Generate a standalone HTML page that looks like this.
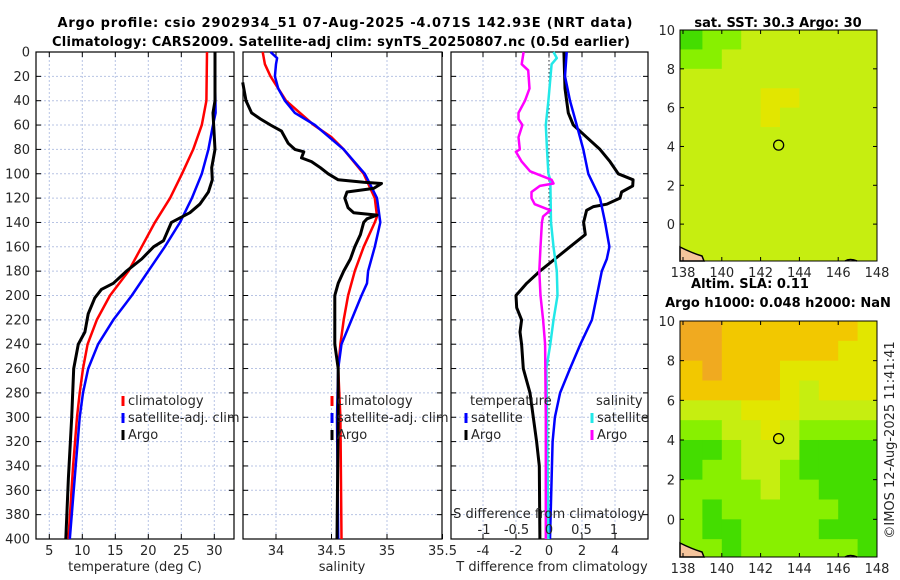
<!DOCTYPE html>
<html><head><meta charset="utf-8"><style>
html,body{margin:0;padding:0;background:#fff;}
svg{display:block;font-family:"DejaVu Sans","Liberation Sans",sans-serif;}
</style></head><body>
<svg id="fig" width="900" height="580" viewBox="0 0 900 580" xmlns="http://www.w3.org/2000/svg">
<rect width="900" height="580" fill="#fff"/>
<text x="345" y="27" text-anchor="middle" font-weight="bold" font-size="13" textLength="575">Argo profile: csio 2902934_51 07-Aug-2025 -4.071S 142.93E (NRT data)</text>
<text x="341" y="46" text-anchor="middle" font-weight="bold" font-size="13" textLength="578">Climatology: CARS2009. Satellite-adj clim: synTS_20250807.nc (0.5d earlier)</text>
<text x="778" y="27" text-anchor="middle" font-weight="bold" font-size="13">sat. SST: 30.3 Argo: 30</text>
<text x="750" y="288" text-anchor="middle" font-weight="bold" font-size="13">Altim. SLA: 0.11</text>
<text x="778" y="307" text-anchor="middle" font-weight="bold" font-size="13">Argo h1000: 0.048 h2000: NaN</text>
<text transform="translate(894,440) rotate(-90)" text-anchor="middle" font-size="13" fill="#262626">©IMOS 12-Aug-2025 11:41:41</text>
<g id="plots"></g>
</svg>
<script>
// ---------- data ----------
const depthTicks=[0,20,40,60,80,100,120,140,160,180,200,220,240,260,280,300,320,340,360,380,400];
const tempTicks=[5,10,15,20,25,30];
const salTicks=[34,34.5,35,35.5];
const tdiffTicks=[-4,-2,0,2,4];
const sdiffTicks=[-1,-0.5,0,0.5,1];
const sdiffTickLabels=["-1","-0.5","0","0.5","1"];

const tClimDepth=[0,40,60,80,100,120,140,160,180,200,220,240,260,280,300,340,400];
const tClimVal=[28.9,28.8,28.1,26.8,25.1,23.3,21.0,19.0,17.0,14.2,12.2,10.8,10.1,9.6,9.2,8.6,7.9];
const tSatDepth=[0,20,50,60,80,100,120,140,160,180,200,220,240,260,280,300,340,400];
const tSatVal=[30.1,30.1,30.2,29.8,29.1,28.1,26.6,24.8,22.5,20.0,17.5,14.7,12.4,10.9,10.1,9.6,9.0,8.1];
const tArgoDepth=[0,40,50,80,95,105,115,125,132,140,155,160,170,180,190,195,202,215,230,240,260,300,350,400];
const tArgoVal=[30.1,30.1,29.8,30.1,29.6,29.7,29.1,27.8,26.3,23.5,22.3,20.8,19.0,16.7,14.7,12.9,11.9,10.9,10.4,9.4,8.7,8.4,7.9,7.5];

const sClimDepth=[0,10,20,40,60,70,80,100,120,135,140,160,180,200,220,240,260,300,400];
const sClimVal=[33.88,33.90,33.95,34.09,34.34,34.50,34.61,34.79,34.89,34.91,34.89,34.79,34.71,34.65,34.61,34.58,34.56,34.58,34.59];
const sSatDepth=[0,5,10,20,30,40,50,60,80,100,120,140,160,180,190,200,220,240,260,300,400];
const sSatVal=[33.95,34.01,34.0,33.99,34.02,34.08,34.17,34.35,34.61,34.80,34.91,34.94,34.89,34.83,34.82,34.77,34.68,34.59,34.56,34.55,34.56];
const sArgoDepth=[25,40,50,55,60,65,75,80,82,87,90,95,100,105,107,108,112,115,120,128,132,134,137,140,150,160,170,180,190,200,220,240,260,300,400];
const sArgoVal=[33.70,33.73,33.78,33.86,33.95,34.05,34.11,34.17,34.25,34.23,34.32,34.40,34.47,34.56,34.79,34.95,34.88,34.64,34.62,34.65,34.70,34.91,34.82,34.79,34.76,34.71,34.67,34.61,34.56,34.53,34.53,34.53,34.56,34.56,34.55];

const dTArgoDepth=[0,30,50,60,70,80,90,100,105,110,115,120,125,127,130,140,150,160,170,180,190,200,210,220,230,240,260,280,300,320,340,400];
const dTArgoVal=[0.9,0.97,1.17,1.47,2.28,3.09,3.7,4.2,5.1,5.07,4.4,4.3,3.5,2.7,2.28,2.1,2.2,1.27,0.36,-0.55,-1.35,-2.0,-1.96,-1.66,-1.76,-1.66,-1.56,-1.15,-0.95,-0.75,-0.59,-0.55];
const dTSatDepth=[0,20,40,60,70,80,100,120,140,160,170,180,200,220,240,260,280,300,320,400];
const dTSatVal=[1.07,0.97,1.27,1.68,1.88,2.08,2.38,3.09,3.4,3.66,3.5,3.2,2.9,2.6,1.9,1.27,0.67,0.36,0.22,0.06];
const dSSatDepth=[0,5,10,40,60,80,100,105,140,160,180,200,220,240,260,300,400];
const dSSatVal=[0.07,0.12,0.04,-0.01,-0.05,-0.03,-0.01,0.02,0.03,0.07,0.12,0.13,0.07,0.02,-0.04,-0.03,-0.01];
const dSArgoDepth=[0,10,15,30,40,50,55,60,70,80,82,90,98,105,108,110,115,120,125,130,135,140,160,180,200,220,240,300,400];
const dSArgoVal=[-0.39,-0.42,-0.32,-0.30,-0.37,-0.47,-0.47,-0.41,-0.47,-0.45,-0.51,-0.42,-0.29,0.04,0.07,-0.14,-0.27,-0.27,-0.22,0.02,-0.09,-0.11,-0.13,-0.15,-0.13,-0.09,-0.06,-0.05,-0.05];

const lonTicks=[138,140,142,144,146,148];
const latTicks=[0,2,4,6,8,10];
const sstGrid=[
[1,2,2,3,3,3,3,3,3,3],
[2,2,3,3,3,3,3,3,3,3],
[3,3,3,3,3,3,3,3,3,3],
[3,3,3,3,4,4,3,3,3,3],
[3,3,3,3,4,3,3,3,3,3],
[3,3,3,3,3,3,3,3,3,3],
[3,3,3,3,3,3,3,3,3,3],
[3,3,3,3,3,3,3,3,3,3],
[3,3,3,3,3,3,3,3,3,3],
[3,3,3,3,3,3,3,3,3,3],
[3,3,3,3,3,3,3,3,3,3],
[3,3,3,3,3,3,3,3,3,3]];
const slaGrid=[
[6,6,5,5,5,5,5,5,5,4],
[6,6,5,5,5,5,5,5,4,4],
[5,6,5,5,5,4,4,4,4,4],
[5,5,5,5,5,4,3,4,4,4],
[3,3,3,4,4,4,3,3,3,3],
[2,2,3,3,4,3,2,2,2,2],
[1,1,2,3,3,3,1,1,1,1],
[1,2,2,3,3,2,1,1,1,1],
[2,2,2,2,3,2,2,1,1,1],
[2,1,2,2,2,2,2,2,1,1],
[2,1,1,2,2,2,2,1,1,1],
[2,2,1,2,2,2,2,2,2,1]];
const palette=["#22cc00","#44dd00","#88f000","#c6ee10","#e2e600","#f2c800","#f0aa20"];

// ---------- drawing ----------
const NS="http://www.w3.org/2000/svg";
const root=document.getElementById('plots');
function el(tag,attrs,parent){const e=document.createElementNS(NS,tag);for(const k in attrs)e.setAttribute(k,attrs[k]);(parent||root).appendChild(e);return e;}
const Y0=52,Y1=539;
function yScale(d){return Y0+(d/400)*(Y1-Y0);}
function lin(d0,d1,r0,r1){return v=>r0+(v-d0)/(d1-d0)*(r1-r0);}

function panel(name,x0,x1,xs,ticks,labels,showY){
  const g=el('g',{});
  
  
  depthTicks.forEach(d=>{
    const y=yScale(d);
    if(d>0&&d<400){const gl=el('line',{x1:x0,x2:x1,y1:y,y2:y,stroke:'#b8c4e4','stroke-width':1,'stroke-dasharray':'2,2'},g);
      }
    el('line',{x1:x0,x2:x0+5,y1:y,y2:y,stroke:'#000'},g);
    el('line',{x1:x1-5,x2:x1,y1:y,y2:y,stroke:'#000'},g);
    if(showY){const t=el('text',{x:x0-6,y:y+4.5,'text-anchor':'end','font-size':13,fill:'#262626'},g);t.textContent=d;
      }
  });
  ticks.forEach((v,i)=>{
    const x=xs(v);
    if(x>x0+1&&x<x1-1){const gl=el('line',{x1:x,x2:x,y1:Y0,y2:Y1,stroke:'#b8c4e4','stroke-width':1,'stroke-dasharray':'2,2'},g);
      }
    el('line',{x1:x,x2:x,y1:Y1,y2:Y1-5,stroke:'#000'},g);
    el('line',{x1:x,x2:x,y1:Y0,y2:Y0+5,stroke:'#000'},g);
    const t=el('text',{x:x,y:555,'text-anchor':'middle','font-size':13,fill:'#262626'},g);t.textContent=labels[i];
    
  });
  const b=el('rect',{x:x0,y:Y0,width:x1-x0,height:Y1-Y0,fill:'none',stroke:'#000','stroke-width':1.2},g);
  
  return g;
}
function series(g,name,depths,vals,xs,color,w){
  const pts=depths.map((d,i)=>xs(vals[i]).toFixed(1)+','+yScale(d).toFixed(1)).join(' ');
  const p=el('polyline',{points:pts,fill:'none',stroke:color,'stroke-width':w,'stroke-linejoin':'round'},g);
  
  
}
function legendItem(g,name,x,y,color,label){
  const m=el('line',{x1:x,x2:x,y1:y-9,y2:y+1,stroke:color,'stroke-width':3},g);
  
  const t=el('text',{x:x+5,y:y,'font-size':13,fill:'#262626'},g);t.textContent=label;
  
}
function label(g,name,x,y,txt,anchor){const t=el('text',{x:x,y:y,'text-anchor':anchor||'middle','font-size':13,fill:'#262626'},g);t.textContent=txt;
  return t;}

// Panel 1 temperature
const xT=lin(5,30,49.3,214.3);
const g1=panel('temperature-panel',36,234,xT,tempTicks,tempTicks.map(String),true);
series(g1,'temp-climatology-line',tClimDepth,tClimVal,xT,'#ff0000',2.5);
series(g1,'temp-satellite-line',tSatDepth,tSatVal,xT,'#0000ff',2.5);
series(g1,'temp-argo-line',tArgoDepth,tArgoVal,xT,'#000',3);
label(g1,'temperature-axis-title',135,571,'temperature (deg C)');
legendItem(g1,'legend-climatology',123,405,'#ff0000','climatology');
legendItem(g1,'legend-satellite-adj',123,422,'#0000ff','satellite-adj. clim');
legendItem(g1,'legend-argo',123,439,'#000','Argo');

// Panel 2 salinity
const xS=lin(34,35,276,387);
const g2=panel('salinity-panel',243,442,xS,salTicks,["34","34.5","35","35.5"],false);
series(g2,'sal-climatology-line',sClimDepth,sClimVal,xS,'#ff0000',2.5);
series(g2,'sal-satellite-line',sSatDepth,sSatVal,xS,'#0000ff',2.5);
series(g2,'sal-argo-line',sArgoDepth,sArgoVal,xS,'#000',3);
label(g2,'salinity-axis-title',342,571,'salinity');
legendItem(g2,'legend-climatology',332,405,'#ff0000','climatology');
legendItem(g2,'legend-satellite-adj',332,422,'#0000ff','satellite-adj. clim');
legendItem(g2,'legend-argo',332,439,'#000','Argo');

// Panel 3 differences
const xDT=lin(0,4,549,615);
const xDS=lin(0,1,549,614);
const g3=panel('difference-panel',451,648,xDT,tdiffTicks,tdiffTicks.map(String),false);
el('line',{x1:xDT(0),x2:xDT(0),y1:Y0,y2:Y1,stroke:'#333','stroke-width':1,'stroke-dasharray':'1.5,2.5'},g3);
series(g3,'tdiff-argo-line',dTArgoDepth,dTArgoVal,xDT,'#000',3);
series(g3,'tdiff-satellite-line',dTSatDepth,dTSatVal,xDT,'#0000ff',2.5);
series(g3,'sdiff-satellite-line',dSSatDepth,dSSatVal,xDS,'#22e8e8',2.5);
series(g3,'sdiff-argo-line',dSArgoDepth,dSArgoVal,xDS,'#ff00ff',2.5);
label(g3,'tdiff-axis-title',552,571,'T difference from climatology');
label(g3,'sdiff-axis-title',549,518,'S difference from climatology');
sdiffTicks.forEach((v,i)=>label(g3,'sdiff-tick-label',xDS(v),534,sdiffTickLabels[i]));
label(g3,'legend-temperature-header',470,405,'temperature','start');
label(g3,'legend-salinity-header',596,405,'salinity','start');
legendItem(g3,'legend-tdiff-satellite',466,422,'#0000ff','satellite');
legendItem(g3,'legend-tdiff-argo',466,439,'#000','Argo');
legendItem(g3,'legend-sdiff-satellite',592,422,'#22e8e8','satellite');
legendItem(g3,'legend-sdiff-argo',592,439,'#ff00ff','Argo');

// Maps
function map(name,top,bottom,grid){
  const x0=680,x1=877;
  const g=el('g',{});
  
  
  const lonS=lin(138,148,683,877);
  const latS=lin(0,10,top+(bottom-top)*(10/11.9),top);
  const lat0=10, lon0=137.85;
  grid.forEach((row,r)=>row.forEach((v,c)=>{
    const xa=Math.max(x0,lonS(138+c)-(c===0?3:0)), xb=c===row.length-1?x1:lonS(139+c);
    const ya=latS(lat0-r), yb=r===grid.length-1?bottom:latS(lat0-r-1);
    const cell=el('rect',{x:xa,y:ya,width:xb-xa+0.5,height:yb-ya+0.5,fill:palette[v]},g);
    
    
  }));
  const land=el('path',{d:`M${x0},${bottom-14} Q${x0+12},${bottom-8} ${x0+22},${bottom-5} L${x0+24},${bottom} L${x0},${bottom} Z`,fill:'#f5c49c',stroke:'#000','stroke-width':1.5},g);
  
  const land2=el('path',{d:`M${x0+165},${bottom} Q${x0+170},${bottom-3} ${x0+177},${bottom}`,fill:'#f5c49c',stroke:'#000','stroke-width':1.5},g);
  
  const c=el('circle',{cx:lonS(142.93),cy:latS(4.07),r:5,fill:'none',stroke:'#000','stroke-width':1.3},g);
  
  lonTicks.forEach(v=>{const x=lonS(v);
    el('line',{x1:x,x2:x,y1:bottom,y2:bottom-4,stroke:'#000'},g);
    el('line',{x1:x,x2:x,y1:top,y2:top+4,stroke:'#000'},g);
    label(g,'lon-tick-label',x,bottom+16,String(v));});
  latTicks.forEach(v=>{const y=latS(v);
    el('line',{x1:x0,x2:x0+4,y1:y,y2:y,stroke:'#000'},g);
    el('line',{x1:x1-4,x2:x1,y1:y,y2:y,stroke:'#000'},g);
    label(g,'lat-tick-label',x0-5,y+5,String(v),'end');});
  const b=el('rect',{x:x0,y:top,width:x1-x0,height:bottom-top,fill:'none',stroke:'#000','stroke-width':1},g);
  
}
map('sst-map',30,261,sstGrid);
map('sla-map',321,557,slaGrid);
</script>
</body></html>
